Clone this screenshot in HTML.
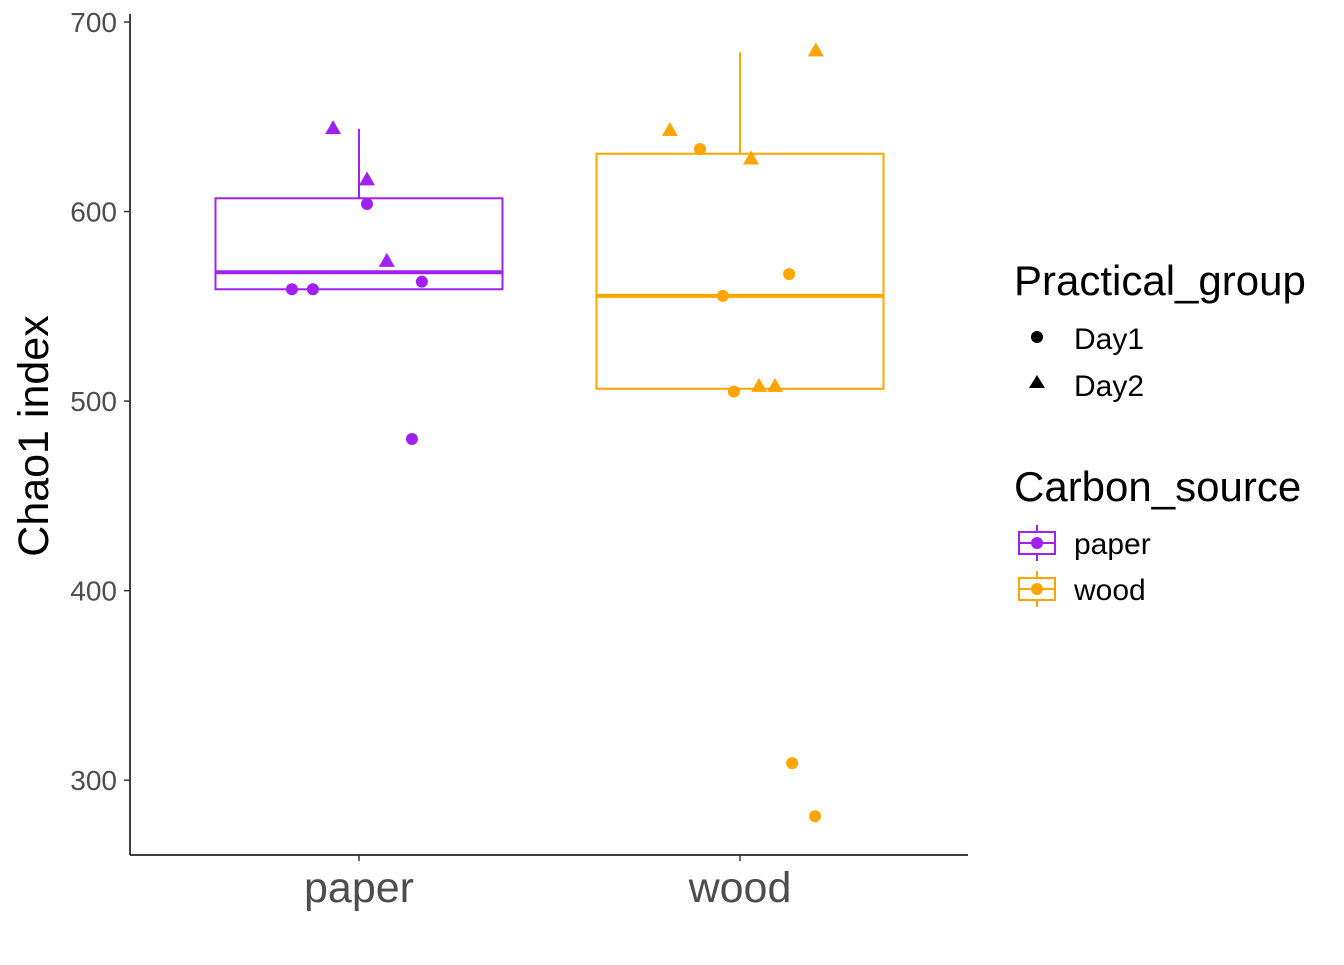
<!DOCTYPE html>
<html><head><meta charset="utf-8"><style>
body{margin:0;background:#fff;}
svg text{font-family:"Liberation Sans",Arial,sans-serif;}
</style></head><body>
<svg id="chart" width="1344" height="960" xmlns="http://www.w3.org/2000/svg"></svg>
<script>
const categories = ["paper","wood"];
const colors = ["#A020F0","#FFA500"];
const boxQ1 = [559, 506.5];
const boxMedian = [568, 555.5];
const boxQ3 = [607, 630.5];
const whiskerLow = [559, 506.5];
const whiskerHigh = [643.5, 684];
const pointGroup = [0,0,0,0,0,0,0,0, 1,1,1,1,1,1,1,1,1,1,1];
const pointShape = ["Day1","Day1","Day1","Day1","Day1","Day2","Day2","Day2",
  "Day1","Day1","Day1","Day1","Day1","Day1","Day2","Day2","Day2","Day2","Day2"];
const pointValue = [559,559,604,563,480,644,617,574,
  633,555.5,567,505,309,281,643,628,685,508,508];
const pointJitter = [-0.176,-0.121,0.021,0.165,0.139,-0.068,0.021,0.073,
  -0.105,-0.045,0.129,-0.016,0.137,0.197,-0.184,0.029,0.199,0.05,0.092];
const yTicks = [300,400,500,600,700];

const svg = document.getElementById('chart');
const NS = "http://www.w3.org/2000/svg";
function y(v){ return 22 + (700 - v) * 1.8955; }
function x(i){ return 359 + i * 381; }
const BW = 287;
function mk(tag, attrs, parent){
  const e = document.createElementNS(NS, tag);
  for (const k in attrs) e.setAttribute(k, attrs[k]);
  (parent || svg).appendChild(e);
  return e;
}
const ax = mk('line',{x1:130,y1:14,x2:130,y2:855,stroke:'#000','stroke-width':1.5});


const bx = mk('line',{x1:130,y1:855,x2:968,y2:855,stroke:'#000','stroke-width':1.5});


yTicks.forEach(t=>{
  const l = mk('line',{x1:124,x2:130,y1:y(t),y2:y(t),stroke:'#333','stroke-width':1.5});
  
  
  const tx = mk('text',{x:117,y:y(t)+10,'text-anchor':'end','font-size':28,fill:'#4d4d4d'});
  tx.textContent = t;
  
  
});
categories.forEach((c,i)=>{
  const l = mk('line',{x1:x(i),x2:x(i),y1:855,y2:861,stroke:'#333','stroke-width':1.5});
  
  
  const tx = mk('text',{x:x(i),y:902,'text-anchor':'middle','font-size':43,fill:'#4d4d4d'});
  tx.textContent = c;
  
  
});
const yt = mk('text',{x:0,y:0,transform:'translate(48,436) rotate(-90)','text-anchor':'middle','font-size':43,fill:'#000'});
yt.textContent = 'Chao1 index';



categories.forEach((c,i)=>{
  const g = mk('g',{});
  
  
  const col = colors[i];
  mk('line',{x1:x(i),x2:x(i),y1:y(boxQ3[i]),y2:y(whiskerHigh[i]),stroke:col,'stroke-width':2},g);
  mk('line',{x1:x(i),x2:x(i),y1:y(boxQ1[i]),y2:y(whiskerLow[i]),stroke:col,'stroke-width':2},g);
  mk('rect',{x:x(i)-BW/2,y:y(boxQ3[i]),width:BW,height:y(boxQ1[i])-y(boxQ3[i]),fill:'none',stroke:col,'stroke-width':2},g);
  mk('line',{x1:x(i)-BW/2,x2:x(i)+BW/2,y1:y(boxMedian[i]),y2:y(boxMedian[i]),stroke:col,'stroke-width':4},g);
});
pointValue.forEach((v,k)=>{
  const gi = pointGroup[k];
  const px = x(gi) + pointJitter[k]*381, py = y(v);
  let e;
  if (pointShape[k]==='Day1') e = mk('circle',{cx:px,cy:py,r:6,fill:colors[gi]});
  else e = mk('polygon',{points:`${px},${py-8} ${px-8},${py+6} ${px+8},${py+6}`,fill:colors[gi]});
  
  
});
function txt(s,xx,yy,fs,name){
  const t = mk('text',{x:xx,y:yy,'font-size':fs,fill:'#000'});
  t.textContent = s;
  
  
}
txt('Practical_group',1014,295,42,'legend-title-practical-group');
const c1 = mk('circle',{cx:1037,cy:337,r:6,fill:'#000'});


txt('Day1',1074,349,30,'legend-day1-label');
const t1 = mk('polygon',{points:'1037,375 1029,388 1045,388',fill:'#000'});


txt('Day2',1074,396,30,'legend-day2-label');
txt('Carbon_source',1014,501,42,'legend-title-carbon-source');
['paper','wood'].forEach((c,i)=>{
  const cy = 543 + i*46;
  const g = mk('g',{});
  
  
  mk('line',{x1:1037,x2:1037,y1:cy-18,y2:cy+18,stroke:colors[i],'stroke-width':2},g);
  mk('rect',{x:1019,y:cy-11,width:36,height:22,fill:'#fff',stroke:colors[i],'stroke-width':2},g);
  mk('line',{x1:1019,x2:1055,y1:cy,y2:cy,stroke:colors[i],'stroke-width':2},g);
  mk('circle',{cx:1037,cy:cy,r:6,fill:colors[i]},g);
  txt(c,1074,cy+11,30,'legend-'+c+'-label');
});
</script>
</body></html>
